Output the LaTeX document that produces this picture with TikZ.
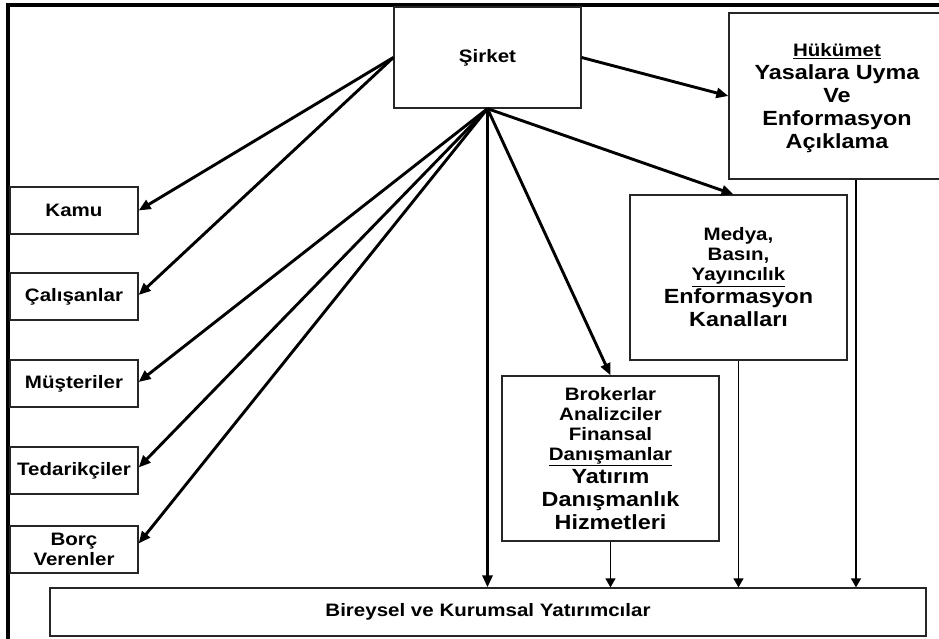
\documentclass[tikz,border=0pt]{standalone}
\usepackage{fontspec}
\setmainfont{Liberation Sans}[FakeStretch=1.14]
\usetikzlibrary{arrows.meta}
\newcommand\smf{\fontsize{18}{20}\selectfont\bfseries}
\newcommand\lgf{\fontsize{20.5}{23}\selectfont\bfseries}
\begin{document}
\begin{tikzpicture}[x=1pt,y=-1pt,
 box/.style={draw=black!85,line width=1.3pt,align=center,inner sep=0pt,font=\smf},
 leftbox/.style={box,minimum width=128pt,minimum height=47pt},
 bigbox/.style={box,minimum width=217pt,minimum height=165pt,font=\lgf},
 thickarrow/.style={line width=2.9pt,-{Triangle[length=12pt,width=10pt]}},
 thinarrow/.style={line width=1.3pt,-{Triangle[length=9pt,width=10pt]}},
 frameline/.style={line width=3.2pt}]
\useasboundingbox (0,0) rectangle (939,638);
% outer frame (top and left edges)
\coordinate (fl) at (8,640);
\coordinate (fc) at (8,5);
\coordinate (fr) at (945,5);
\draw[frameline] (fl) -- (fc) -- (fr);
% nodes
\node[box,minimum width=187pt,minimum height=101pt] (sirket) at (487.5,57.5) {Şirket};
\node[bigbox,minimum width=216pt,minimum height=166pt,text depth=0pt] (huk) at (837,96)
  {{\smf\underline{Hükümet}}\\ Yasalara Uyma\\ Ve\\ Enformasyon\\ Açıklama};
\node[bigbox] (medya) at (738.5,277.5)
  {{\smf Medya,}\\[-3pt]{\smf Basın,}\\[-3pt]{\smf\underline{Yayıncılık}}\\ Enformasyon\\ Kanalları};
\node[bigbox] (brok) at (610.5,458.5)
  {{\smf Brokerlar}\\[-3pt]{\smf Analizciler}\\[-3pt]{\smf Finansal}\\[-3pt]{\smf\underline{Danışmanlar}}\\ Yatırım\\ Danışmanlık\\ Hizmetleri};
\node[box,minimum width=876pt,minimum height=48pt] (bir) at (488,612) {Bireysel ve Kurumsal Yatırımcılar};
\node[leftbox] (kamu) at (74,210.5) {Kamu};
\node[leftbox] (cal) at (74,296.5) {Çalışanlar};
\node[leftbox] (mus) at (74,383.5) {Müşteriler};
\node[leftbox] (ted) at (74,470.5) {Tedarikçiler};
\node[leftbox] (borc) at (74,549.5) {Borç\\Verenler};
% thick arrows from Şirket
\draw[thickarrow] (sirket.west) -- (kamu.east);
\draw[thickarrow] (sirket.west) -- ([yshift=1.5pt]cal.east);
\draw[thickarrow] (sirket.south) -- ([yshift=1.5pt]mus.east);
\draw[thickarrow] (sirket.south) -- ([yshift=3pt]ted.east);
\draw[thickarrow] (sirket.south) -- ([yshift=6pt]borc.east);
\draw[thickarrow] (sirket.south) -- (sirket.south |- bir.north);
\draw[thickarrow] (sirket.south) -- (brok.north);
\draw[thickarrow] (sirket.south) -- ([xshift=-5pt]medya.north);
\draw[thickarrow] (sirket.east) -- (huk.west);
% thin arrows to investors
\draw[thinarrow] (brok.south) -- (brok.south |- bir.north);
\draw[thinarrow] (medya.south) -- (medya.south |- bir.north);
\draw[thinarrow] ([xshift=19pt]huk.south) -- ([xshift=19pt]huk.south |- bir.north);
\end{tikzpicture}
\end{document}
